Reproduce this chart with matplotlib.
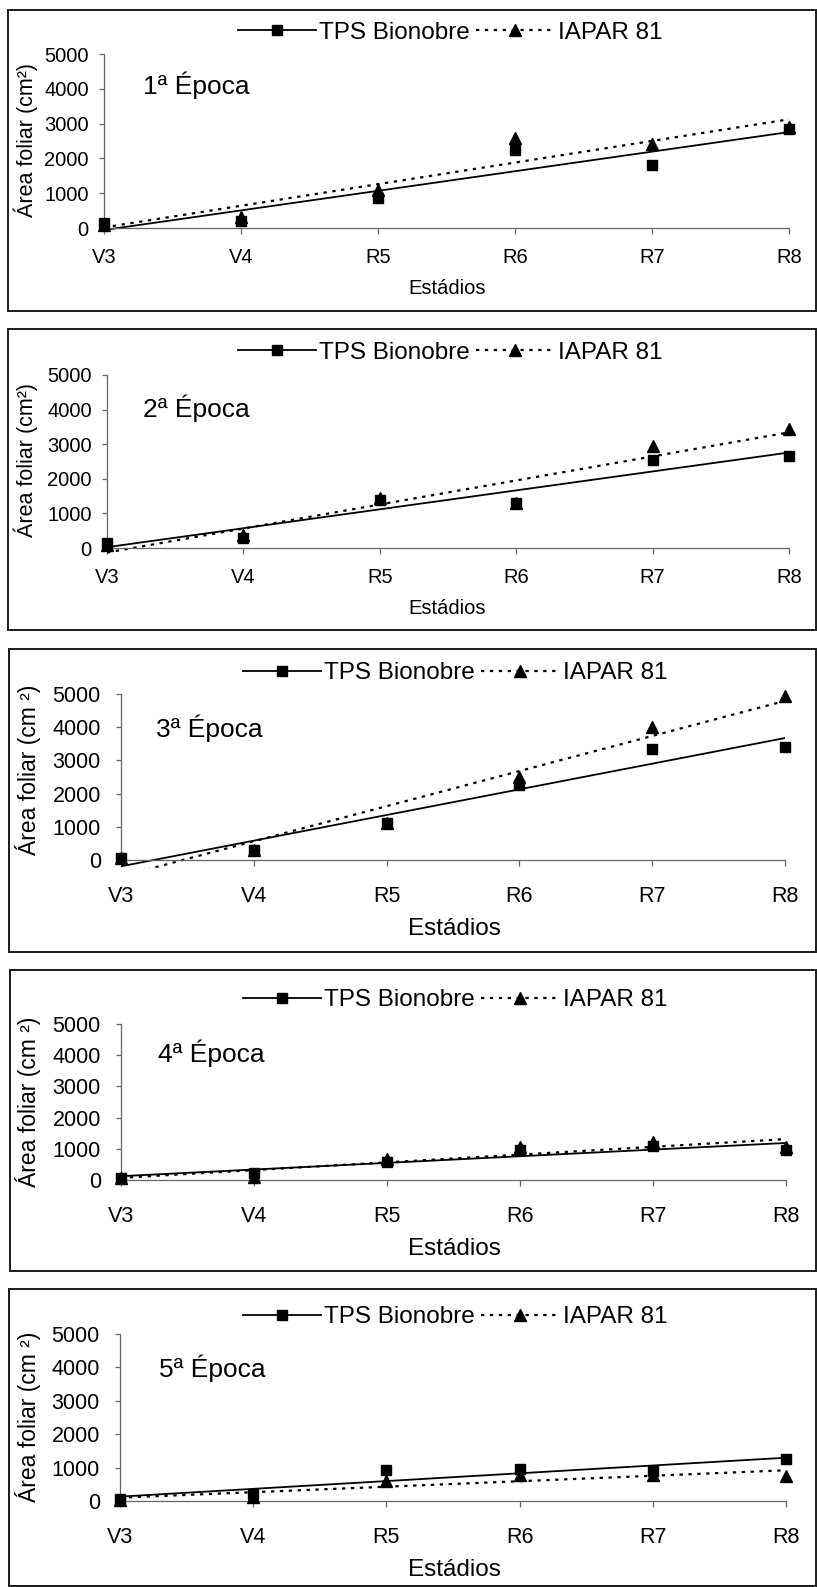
import numpy as np
import matplotlib
matplotlib.use('Agg')
import matplotlib.pyplot as plt
from matplotlib.lines import Line2D
from matplotlib.patches import Rectangle

plt.rcParams['font.family'] = ['Liberation Sans', 'DejaVu Sans']

# dados (área foliar, cm²)
estadios = ['V3', 'V4', 'R5', 'R6', 'R7', 'R8']
epocas = ['1ª Época', '2ª Época', '3ª Época', '4ª Época', '5ª Época']
yticks = [0, 1000, 2000, 3000, 4000, 5000]

tps_1 = [150, 200, 850, 2250, 1800, 2850]
tps_2 = [150, 300, 1400, 1300, 2550, 2650]
tps_3 = [50, 300, 1100, 2250, 3350, 3400]
tps_4 = [80, 230, 580, 970, 1100, 970]
tps_5 = [50, 200, 920, 960, 890, 1260]

iapar_1 = [100, 320, 1100, 2600, 2400, 2900]
iapar_2 = [100, 380, 1450, 1300, 2950, 3450]
iapar_3 = [50, 300, 1100, 2500, 4000, 4950]
iapar_4 = [50, 100, 680, 1050, 1210, 1050]
iapar_5 = [30, 120, 600, 780, 790, 740]

tps = [tps_1, tps_2, tps_3, tps_4, tps_5]
iapar = [iapar_1, iapar_2, iapar_3, iapar_4, iapar_5]

W, H = 817, 1587
fig = plt.figure(figsize=(W / 100, H / 100), dpi=100)


def fx(px):
    return px / W


def fy(py):
    return 1 - py / H


# posições em pixels: caixa, eixo (x0, x1, y5000, y0), legenda, época, rótulos
layout = [
    dict(box=(8, 10, 816, 311), ax=(104, 789, 54, 228), leg=(450, 33), ep=(143, 85),
         yl=(26, 140), xl=(447, 288), big=False),
    dict(box=(8, 329, 816, 630), ax=(107, 789, 375, 548), leg=(450, 353), ep=(143, 408),
         yl=(26, 460), xl=(447, 608), big=False),
    dict(box=(9, 649, 816, 952), ax=(121, 785, 694, 860), leg=(455, 673), ep=(156, 728),
         yl=(28, 770), xl=(454, 929), big=True),
    dict(box=(10, 970, 816, 1271), ax=(121, 786, 1024, 1180), leg=(455, 1000), ep=(158, 1053),
         yl=(28, 1102), xl=(454, 1249), big=True),
    dict(box=(9, 1289, 816, 1586), ax=(120, 786, 1334, 1501), leg=(455, 1317), ep=(159, 1368),
         yl=(28, 1417), xl=(454, 1570), big=True),
]

ymin = -230
x = np.arange(len(estadios))

for i, lay in enumerate(layout):
    l, t, r, b = lay['box']
    fig.patches.append(Rectangle((fx(l), fy(b)), (r - l) / W, (b - t) / H,
                                 transform=fig.transFigure, fill=False,
                                 lw=1.4, ec='#1a1a1a', zorder=0))

    x0, x1, y5, y0 = lay['ax']
    scale = (y0 - y5) / 5000
    bottom = y0 - ymin * scale
    ax = fig.add_axes([fx(x0), fy(bottom), (x1 - x0) / W, (bottom - y5) / H])
    ax.patch.set_visible(False)
    ax.set_xlim(0, 5)
    ax.set_ylim(ymin, 5000)

    # linhas de tendência (ajuste linear)
    xx = np.array([0, 5])
    c_t = np.polyfit(x, tps[i], 1)
    c_i = np.polyfit(x, iapar[i], 1)
    ax.plot(xx, np.polyval(c_i, xx), color='black', lw=1.6, ls=(0, (1.5, 2.5)), zorder=2)
    ax.plot(xx, np.polyval(c_t, xx), color='black', lw=1.3, zorder=2)

    ax.plot(x, iapar[i], ls='none', marker='^', ms=8, color='black', clip_on=False, zorder=3)
    ax.plot(x, tps[i], ls='none', marker='s', ms=7.5, color='black', clip_on=False, zorder=4)

    for s in ['top', 'right']:
        ax.spines[s].set_visible(False)
    ax.spines['left'].set_bounds(0, 5000)
    ax.spines['bottom'].set_position(('data', 0))
    for s in ['left', 'bottom']:
        ax.spines[s].set_color('#666666')
        ax.spines[s].set_linewidth(0.9)

    big = lay['big']
    tfs = 15.5 if big else 14.5
    ax.set_yticks(yticks)
    ax.set_xticks(x, estadios)
    ax.tick_params(axis='y', direction='out', length=3.5, width=0.9, color='#666666',
                   labelsize=tfs, pad=11 if big else 7.5)
    ax.tick_params(axis='x', direction='out', length=4.5, width=0.9, color='#666666',
                   labelsize=tfs, pad=14 if big else 10)

    handles = [Line2D([], [], color='black', lw=1.3, marker='s', ms=7.5),
               Line2D([], [], color='black', lw=1.6, ls=(0, (1.5, 2.5)), marker='^', ms=8)]
    ax.legend(handles, ['TPS Bionobre', 'IAPAR 81'], loc='center',
              bbox_to_anchor=(fx(lay['leg'][0]), fy(lay['leg'][1])),
              bbox_transform=fig.transFigure, ncol=2, frameon=False, numpoints=1,
              fontsize=17.5, handlelength=3.2, handletextpad=0.15, columnspacing=0.25,
              borderpad=0, borderaxespad=0)

    fig.text(fx(lay['ep'][0]), fy(lay['ep'][1]), epocas[i], fontsize=19,
             ha='left', va='center')
    ylab = 'Área foliar (cm ²)' if big else 'Área foliar (cm²)'
    fig.text(fx(lay['yl'][0]), fy(lay['yl'][1]), ylab, fontsize=16.5 if big else 15.5,
             rotation=90, ha='center', va='center')
    fig.text(fx(lay['xl'][0]), fy(lay['xl'][1]), 'Estádios', fontsize=17.5 if big else 14.5,
             ha='center', va='center')

fig.savefig('out.png', dpi=100)
